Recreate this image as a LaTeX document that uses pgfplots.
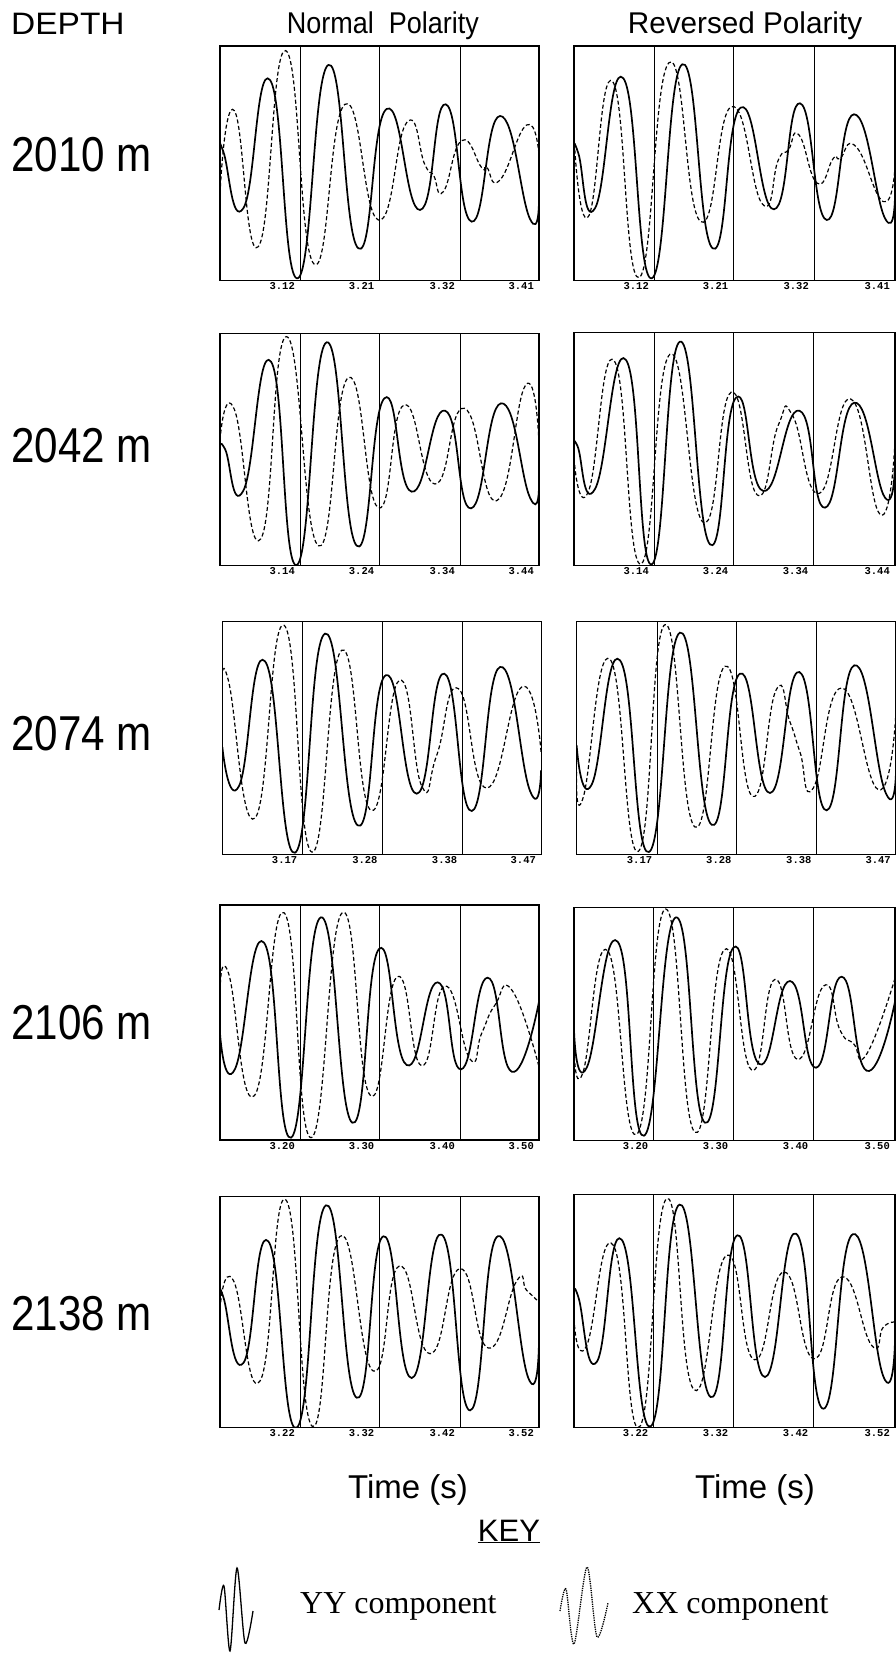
\documentclass[border=0pt]{standalone}
\usepackage{fontspec}
\usepackage{graphicx}
\usepackage{pgfplots}
\pgfplotsset{compat=1.18}
\setmainfont{Liberation Sans}
\newfontfamily\keyserif{Liberation Serif}
\newfontfamily\tickmono{Liberation Mono}
\newcommand\tickfont{\tickmono\bfseries\fontsize{10.5}{11}\selectfont}
\newcommand\fs[1]{\fontsize{#1}{#1}\selectfont}

% digitised traces: x, y in pixels of a 3x scan of each panel (y grows downward)
\pgfplotsset{
  panel/.style={
    scale only axis, anchor=center, y dir=reverse,
    axis line style={line width=1.1pt},
    ytick=\empty, major tick length=0pt,
    xmajorgrids, grid style={line width=0.9pt, black},
    xticklabel style={font=\tickfont, anchor=north east, xshift=-4pt, yshift=-1pt, inner sep=1pt},
  },
  yy/.style={black, line width=1.7pt, smooth, tension=0.9, no markers},
  xx/.style={black, line width=1.2pt, smooth, tension=0.9, no markers, dash pattern=on 4pt off 2.5pt},
}

\begin{document}
\begin{tikzpicture}
\useasboundingbox (0,0) rectangle (896pt,-1653pt);

% headings
\node[anchor=base west, inner sep=0] at (11pt,-35pt) {\fs{31}\scalebox{1.08}[1]{DEPTH}};
\node[anchor=base, inner sep=0] at (383pt,-34pt) {\fs{30}\scalebox{0.9}[1]{Normal\ \ Polarity}};
\node[anchor=base, inner sep=0] at (745pt,-34pt) {\fs{30}\scalebox{0.99}[1]{Reversed Polarity}};

\node[anchor=base west, inner sep=0] at (11pt,-172pt) {\fs{49}\scalebox{0.86}[1]{2010 m}};
\node[anchor=base west, inner sep=0] at (11pt,-462pt) {\fs{49}\scalebox{0.86}[1]{2042 m}};
\node[anchor=base west, inner sep=0] at (11pt,-750pt) {\fs{49}\scalebox{0.86}[1]{2074 m}};
\node[anchor=base west, inner sep=0] at (11pt,-1039pt) {\fs{49}\scalebox{0.86}[1]{2106 m}};
\node[anchor=base west, inner sep=0] at (11pt,-1330pt) {\fs{49}\scalebox{0.86}[1]{2138 m}};

% ---- 2010 m ----
\begin{axis}[panel, at={(379.5pt,-163.3pt)}, width=319pt, height=234.7pt,
  xmin=15, xmax=972, ymin=18, ymax=722,
  xtick={255,493,735,972}, xticklabels={3.12,3.21,3.32,3.41}]
\addplot[yy] coordinates {(15,315) (25,335) (85,505) (165,120) (248,715) (340,75) (430,625) (515,207) (615,510) (692,193) (770,545) (855,228) (945,537) (972,470)};
\addplot[xx] coordinates {(15,460) (58,212) (130,620) (212,32) (297,672) (390,193) (490,540) (575,248) (630,375) (655,405) (685,455) (740,302) (800,383) (815,382) (855,420) (935,255) (972,345)};
\end{axis}
\begin{axis}[panel, at={(734.5pt,-163.3pt)}, width=321pt, height=234.7pt,
  xmin=12, xmax=975, ymin=18, ymax=722,
  xtick={252,490,732,975}, xticklabels={3.12,3.21,3.32,3.41}]
\addplot[yy] coordinates {(12,315) (25,340) (75,505) (160,115) (245,715) (337,73) (428,625) (512,203) (612,508) (690,190) (770,540) (852,223) (945,535) (975,460)};
\addplot[xx] coordinates {(12,290) (55,530) (128,125) (207,713) (297,68) (392,545) (485,200) (577,492) (625,360) (655,330) (687,285) (742,430) (790,355) (810,355) (858,320) (940,485) (975,380)};
\end{axis}

% ---- 2042 m ----
\begin{axis}[panel, at={(379.5pt,-449.5pt)}, width=319pt, height=232.4pt,
  xmin=15, xmax=972, ymin=25, ymax=722,
  xtick={255,493,735,972}, xticklabels={3.14,3.24,3.34,3.44}]
\addplot[yy] coordinates {(15,365) (30,372) (85,497) (168,110) (245,720) (335,52) (425,662) (508,220) (590,500) (690,257) (768,550) (858,235) (945,518) (972,480)};
\addplot[xx] coordinates {(15,345) (58,253) (137,642) (215,35) (310,662) (400,158) (490,548) (567,240) (660,477) (748,250) (845,527) (932,180) (972,355)};
\end{axis}
\begin{axis}[panel, at={(734.5pt,-449pt)}, width=321pt, height=233.4pt,
  xmin=12, xmax=975, ymin=22, ymax=722,
  xtick={252,490,730,975}, xticklabels={3.14,3.24,3.34,3.44}]
\addplot[yy] coordinates {(12,362) (22,362) (75,492) (168,105) (245,718) (330,50) (420,658) (498,218) (580,498) (688,257) (765,548) (853,233) (945,518) (975,400)};
\addplot[xx] coordinates {(12,400) (55,500) (133,108) (212,717) (300,88) (400,592) (483,202) (562,510) (625,300) (668,272) (748,505) (842,222) (930,568) (975,350)};
\end{axis}

% ---- 2074 m ----
\begin{axis}[panel, at={(381.7pt,-738pt)}, width=318.7pt, height=233.4pt,
  xmin=22, xmax=978, ymin=28, ymax=728,
  xtick={262,503,742,978}, xticklabels={3.17,3.28,3.38,3.47}]
\addplot[yy] coordinates {(22,405) (72,522) (150,148) (240,722) (330,65) (428,640) (512,190) (605,545) (688,185) (770,597) (855,165) (945,537) (978,475)};
\addplot[xx] coordinates {(22,235) (40,205) (120,618) (207,40) (290,720) (380,115) (468,595) (553,205) (620,522) (665,430) (730,230) (815,528) (920,225) (978,420)};
\end{axis}
\begin{axis}[panel, at={(736.3pt,-738pt)}, width=319.3pt, height=233.4pt,
  xmin=20, xmax=978, ymin=28, ymax=728,
  xtick={262,500,740,978}, xticklabels={3.17,3.28,3.38,3.47}]
\addplot[yy] coordinates {(20,400) (65,518) (150,145) (237,720) (330,62) (425,638) (510,185) (600,543) (688,180) (770,595) (853,160) (945,537) (978,480)};
\addplot[xx] coordinates {(20,480) (40,555) (120,142) (205,718) (285,38) (375,645) (465,163) (548,553) (618,235) (660,330) (690,420) (730,528) (815,228) (925,533) (978,300)};
\end{axis}

% ---- 2106 m ----
\begin{axis}[panel, at={(379.5pt,-1022.5pt)}, width=319pt, height=235pt,
  xmin=15, xmax=972, ymin=15, ymax=720,
  xtick={255,493,735,972}, xticklabels={3.20,3.30,3.40,3.50}]
\addplot[yy] coordinates {(15,400) (60,507) (147,128) (228,713) (318,52) (412,668) (492,147) (575,495) (668,247) (738,508) (818,233) (890,515) (972,305)};
\addplot[xx] coordinates {(15,290) (40,218) (118,587) (207,38) (288,713) (382,38) (465,585) (547,230) (620,497) (690,258) (765,477) (800,400) (840,315) (892,272) (972,500)};
\end{axis}
\begin{axis}[panel, at={(734.5pt,-1023.7pt)}, width=321pt, height=232.7pt,
  xmin=12, xmax=975, ymin=22, ymax=720,
  xtick={250,490,730,975}, xticklabels={3.20,3.30,3.40,3.50}]
\addplot[yy] coordinates {(12,390) (50,503) (143,125) (222,707) (318,52) (405,668) (490,143) (568,492) (660,243) (738,503) (815,230) (890,512) (975,305)};
\addplot[xx] coordinates {(12,430) (38,520) (113,152) (200,703) (287,27) (375,697) (462,150) (545,510) (615,238) (683,478) (762,257) (810,390) (850,430) (890,462) (975,235)};
\end{axis}

% ---- 2138 m ----
\begin{axis}[panel, at={(379.5pt,-1312pt)}, width=319pt, height=231.4pt,
  xmin=15, xmax=972, ymin=28, ymax=722,
  xtick={255,493,735,972}, xticklabels={3.22,3.32,3.42,3.52}]
\addplot[yy] coordinates {(15,318) (25,330) (85,528) (160,163) (245,722) (333,55) (425,632) (505,148) (590,573) (680,143) (765,670) (848,148) (940,573) (972,460)};
\addplot[xx] coordinates {(15,365) (55,280) (135,582) (212,38) (292,718) (375,148) (475,552) (553,237) (645,500) (735,245) (820,483) (905,282) (935,310) (972,345)};
\end{axis}
\begin{axis}[panel, at={(734.5pt,-1311pt)}, width=321pt, height=233.4pt,
  xmin=12, xmax=975, ymin=22, ymax=722,
  xtick={250,490,730,975}, xticklabels={3.22,3.32,3.42,3.52}]
\addplot[yy] coordinates {(12,317) (25,330) (80,525) (155,158) (242,718) (328,53) (422,630) (502,145) (585,570) (678,140) (760,665) (848,142) (940,568) (975,460)};
\addplot[xx] coordinates {(12,395) (48,480) (130,175) (208,720) (290,35) (372,608) (470,205) (553,518) (642,255) (732,515) (815,270) (905,475) (940,420) (975,405)};
\end{axis}

% axis titles
\node[anchor=base, inner sep=0] at (408pt,-1498pt) {\fs{33}Time (s)};
\node[anchor=base, inner sep=0] at (755pt,-1498pt) {\fs{33}Time (s)};

% key
\node[anchor=base, inner sep=0] at (509pt,-1541pt) {\fs{31}\underline{KEY}};
\node[anchor=base west, inner sep=0] at (300pt,-1613pt) {\keyserif\fs{32}YY component};
\node[anchor=base west, inner sep=0] at (632pt,-1613pt) {\keyserif\fs{32}XX component};
\begin{axis}[hide axis, scale only axis, anchor=center, at={(548pt,-1606.5pt)},
  width=696pt, height=93pt, xmin=200, xmax=896, ymin=1560, ymax=1653,
  y dir=reverse, clip=false]
\addplot[black, line width=1.3pt, smooth, no markers] coordinates {(219,1610) (224,1586) (230,1651) (237,1568) (245,1643) (253,1611)};
\addplot[black, line width=1.3pt, smooth, no markers, densely dotted] coordinates {(560,1611) (566,1589) (574,1644) (587,1567) (597,1637) (608,1603)};
\end{axis}
\end{tikzpicture}
\end{document}
